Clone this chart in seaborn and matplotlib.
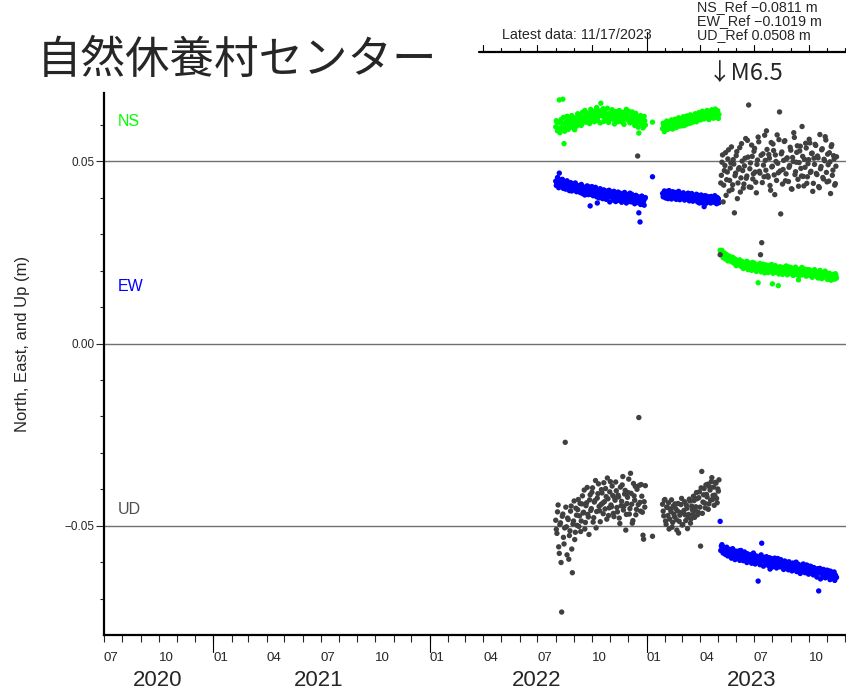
import numpy as np
import pandas as pd
import matplotlib
matplotlib.use("Agg")
import matplotlib.pyplot as plt
import matplotlib.dates as mdates
import matplotlib.transforms as mtransforms
from matplotlib.ticker import FixedLocator
import seaborn as sns

# ---------------- data (mm) ----------------
components = ["NS", "EW", "UD"]
colors = {"NS": "#00ff00", "EW": "#0000ff", "UD": "#404040"}

# segment start dates; each segment holds one value every 2 days
seg_starts = {"a": "2022-08-01", "a2": "2022-08-02",
              "b": "2023-01-28", "b2": "2023-01-29",
              "c": "2023-05-07", "c2": "2023-05-06"}
single_dates = ["2023-01-11", "2023-05-05"]

ns_a = [59.5, 60.8, 58.9, 66.9, 59.2, 60.5, 67.1, 54.9, 59.9, 61.0,
        59.1, 60.4, 60.0, 61.3, 59.6, 60.9, 58.7, 61.2, 60.3, 61.8,
        60.1, 61.5, 62.0, 60.7, 61.9, 62.4, 61.1, 62.8, 61.6, 63.2,
        62.1, 61.4, 62.9, 63.8, 62.3, 61.7, 62.6, 63.1, 66.0, 62.5,
        64.5, 62.2, 61.5, 63.0, 62.4, 61.8, 62.7, 63.4, 61.6, 62.1,
        62.9, 61.3, 62.5, 63.1, 61.9, 62.4, 60.8, 62.6, 61.7, 62.2,
        63.0, 61.4, 62.0, 60.9, 62.3, 61.6, 62.8, 61.1, 60.5, 62.0,
        57.8, 61.3, 60.9, 61.8, 59.6, 61.2]
ns_a2 = [61.2, 58.4, 60.6, 57.9, 61.5, 59.0, 62.1, 58.3, 60.2, 62.4,
         58.8, 61.7, 59.5, 62.6, 60.4, 58.9, 62.0, 59.7, 63.1, 60.6,
         62.8, 59.9, 63.5, 61.2, 64.0, 60.8, 63.3, 62.0, 60.4, 64.3,
         61.5, 63.6, 60.9, 62.7, 64.8, 61.2, 63.9, 60.6, 62.9, 64.1,
         61.0, 63.5, 62.1, 64.6, 60.7, 63.2, 61.9, 64.2, 62.5, 60.3,
         63.7, 62.2, 60.9, 64.0, 62.8, 61.1, 63.5, 60.2, 62.9, 64.3,
         61.5, 63.8, 60.6, 62.4, 63.6, 61.0, 59.9, 63.2, 62.1, 59.4,
         61.7, 62.6, 60.3, 59.2, 62.4, 60.0]
ns_b = [59.0, 59.8, 58.6, 60.2, 59.4, 60.5, 59.1, 60.0, 60.7, 59.6,
        60.3, 61.0, 59.9, 60.6, 60.1, 61.2, 60.4, 59.8, 60.9, 61.4,
        60.2, 60.8, 61.6, 60.5, 61.1, 62.0, 60.9, 61.5, 62.3, 61.2,
        61.8, 62.6, 61.4, 62.1, 63.0, 61.7, 62.4, 63.4, 62.0, 61.5,
        62.8, 63.1, 62.2, 61.9, 62.7, 63.3, 62.5, 61.8]
ns_b2 = [60.5, 58.2, 59.9, 61.1, 58.8, 60.7, 59.6, 61.4, 58.9, 60.8,
         61.6, 59.3, 60.9, 62.0, 59.7, 61.5, 60.6, 62.3, 59.9, 61.8,
         62.5, 60.4, 61.9, 62.8, 60.7, 62.4, 61.3, 63.1, 60.9, 62.7,
         63.4, 61.6, 62.9, 63.8, 61.8, 63.2, 62.2, 64.0, 61.9, 63.6,
         62.4, 64.2, 62.0, 63.3, 64.4, 62.6, 63.9, 62.9]
ns_c = [25.3, 24.8, 24.1, 24.6, 23.7, 24.2, 23.4, 23.9, 23.0, 23.5,
        22.8, 23.3, 22.2, 22.9, 21.7, 22.6, 22.0, 21.5, 22.4, 21.1,
        21.9, 22.3, 20.8, 21.6, 22.1, 20.5, 21.4, 21.0, 22.0, 20.7,
        21.3, 16.7, 20.4, 21.2, 20.9, 21.8, 20.2, 21.1, 20.6, 19.9,
        20.8, 21.5, 20.3, 16.4, 20.7, 19.6, 21.0, 20.1, 15.9, 20.5,
        19.8, 20.9, 20.0, 19.4, 20.6, 21.2, 19.7, 20.3, 19.5, 20.8,
        19.9, 20.4, 19.2, 20.6, 19.8, 17.5, 20.2, 19.6, 20.9, 19.3,
        20.0, 19.5, 18.8, 20.3, 19.7, 19.1, 18.6, 19.9, 19.4, 18.9,
        19.6, 18.4, 19.2, 20.1, 18.7, 19.0, 18.3, 19.5, 18.8, 17.9,
        18.6, 19.3, 18.1, 18.9, 17.8, 18.5, 19.2, 18.0]
ns_c2 = [24.5, 25.6, 23.6, 24.9, 23.2, 24.4, 22.7, 24.0, 23.4, 22.5,
         23.7, 22.1, 23.1, 21.4, 22.7, 21.9, 23.0, 21.2, 22.5, 20.6,
         22.2, 21.0, 22.6, 20.3, 21.8, 21.1, 20.1, 22.3, 20.9, 21.7,
         19.8, 21.5, 20.6, 22.0, 19.7, 21.3, 20.5, 19.4, 21.6, 20.4,
         19.5, 21.2, 20.0, 21.7, 19.3, 20.7, 21.4, 19.6, 20.9, 19.1,
         21.1, 20.2, 19.0, 20.8, 19.6, 21.3, 18.9, 20.4, 21.0, 19.2,
         20.5, 18.7, 20.1, 21.0, 19.0, 20.3, 18.6, 19.8, 20.7, 18.9,
         19.7, 20.4, 18.5, 19.9, 18.8, 20.2, 19.3, 18.2, 19.8, 20.3,
         18.6, 19.5, 18.0, 19.7, 18.9, 17.8, 19.4, 18.4, 19.9, 18.2,
         17.6, 19.1, 18.7, 17.4, 19.0, 18.3, 17.7, 18.8]
ns_single = [60.8, 25.6]

ew_a = [44.6, 43.9, 45.3, 46.8, 44.1, 43.5, 44.8, 43.2, 44.4, 43.8,
        42.9, 44.0, 43.3, 42.7, 43.9, 43.0, 42.5, 43.6, 42.2, 43.1,
        42.8, 41.9, 43.4, 42.4, 41.6, 42.9, 42.1, 41.4, 43.0, 37.8,
        42.3, 41.7, 42.6, 41.1, 42.0, 38.6, 41.5, 42.4, 41.2, 40.8,
        41.9, 41.3, 40.6, 41.7, 41.0, 42.1, 40.4, 41.4, 40.9, 41.8,
        40.2, 41.1, 40.7, 39.9, 41.3, 40.5, 39.7, 40.9, 41.5, 40.1,
        39.6, 40.8, 40.3, 39.4, 41.0, 40.0, 39.2, 40.6, 39.8, 40.4,
        35.9, 33.4, 39.5, 40.2, 39.1, 39.8]
ew_a2 = [43.4, 45.6, 42.8, 44.9, 43.7, 45.1, 42.6, 44.3, 42.4, 44.7,
         43.5, 42.0, 44.2, 41.9, 43.8, 42.6, 44.1, 41.7, 43.4, 42.0,
         41.5, 43.7, 41.2, 42.9, 40.8, 42.5, 43.3, 40.9, 42.2, 41.0,
         43.1, 40.6, 41.8, 42.9, 40.3, 41.6, 40.0, 42.5, 41.1, 39.8,
         42.2, 40.5, 39.6, 41.9, 40.2, 38.9, 41.6, 40.3, 39.4, 41.1,
         39.0, 40.8, 41.6, 39.3, 40.4, 38.8, 41.2, 39.5, 40.6, 38.6,
         40.9, 39.1, 41.3, 38.9, 40.2, 39.6, 38.4, 40.7, 39.0, 38.7,
         39.9, 38.2, 40.5, 39.4, 38.0, 40.1]
ew_b = [41.2, 40.6, 41.5, 40.9, 41.8, 40.4, 41.1, 40.7, 41.4, 40.2,
        40.9, 41.3, 40.5, 41.0, 40.1, 40.8, 41.2, 40.3, 40.7, 39.9,
        40.6, 41.1, 40.0, 40.5, 39.8, 40.9, 40.2, 39.6, 40.4, 39.9,
        40.7, 38.6, 40.1, 39.5, 40.3, 37.6, 39.8, 40.5, 39.3, 40.0,
        39.6, 40.4, 39.2, 39.9, 40.6, 39.4, 40.1, 39.7]
ew_b2 = [40.3, 41.9, 40.0, 41.6, 39.8, 42.0, 40.6, 39.7, 41.7, 40.1,
         41.5, 39.6, 40.4, 41.8, 39.5, 41.0, 39.9, 41.4, 39.4, 40.8,
         39.7, 41.3, 39.2, 40.7, 41.2, 39.1, 40.3, 39.8, 41.0, 38.9,
         40.2, 39.5, 40.8, 38.7, 39.9, 40.6, 38.5, 39.7, 38.9, 40.3,
         38.6, 39.4, 40.2, 38.8, 39.5, 38.4, 39.9, 38.7]
ew_c = [-55.6, -56.4, -55.9, -57.0, -56.2, -56.8, -57.4, -56.5, -57.9, -57.1,
        -56.7, -58.0, -57.3, -58.5, -57.6, -56.9, -58.2, -57.8, -58.8, -57.4,
        -58.1, -59.0, -57.7, -58.6, -59.3, -58.0, -58.9, -57.5, -59.4, -58.4,
        -59.1, -65.2, -58.7, -59.6, -54.8, -58.8, -59.8, -59.2, -58.5, -60.1,
        -59.4, -61.9, -59.0, -60.3, -59.7, -58.9, -60.5, -59.5, -60.0, -60.8,
        -59.3, -60.4, -61.0, -59.8, -60.6, -60.1, -61.3, -59.9, -60.7, -61.5,
        -60.3, -60.9, -61.6, -60.0, -61.2, -60.6, -62.0, -61.0, -61.7, -60.5,
        -61.4, -62.2, -60.8, -61.8, -62.5, -61.1, -62.0, -62.8, -61.5, -62.3,
        -61.9, -62.6, -67.9, -61.7, -62.4, -63.1, -62.0, -62.9, -63.4, -62.2,
        -62.8, -63.6, -62.5, -63.2, -64.0, -62.7, -63.5, -64.2]
ew_c2 = [-56.8, -55.2, -57.5, -56.0, -57.9, -55.9, -58.3, -56.6, -57.2, -58.9,
         -56.3, -57.8, -59.3, -57.0, -58.7, -57.4, -59.5, -56.8, -58.3, -59.6,
         -57.2, -58.9, -60.1, -57.9, -59.4, -58.2, -60.3, -57.8, -59.0, -60.5,
         -58.3, -59.9, -58.6, -60.7, -58.0, -59.6, -61.1, -58.7, -60.2, -59.1,
         -60.9, -58.8, -60.0, -61.4, -59.2, -60.6, -59.4, -61.6, -59.0, -60.3,
         -61.3, -59.6, -60.8, -62.0, -59.7, -61.1, -60.2, -62.1, -60.5, -61.4,
         -62.4, -60.3, -61.7, -60.9, -62.6, -60.7, -61.8, -63.1, -61.0, -62.2,
         -61.3, -62.9, -60.9, -62.5, -63.3, -61.6, -62.7, -61.4, -63.5, -62.0,
         -62.8, -64.1, -61.8, -63.0, -64.6, -62.3, -63.6, -62.6, -64.3, -63.0,
         -63.9, -62.4, -64.8, -63.3, -64.4, -63.1, -65.0, -64.0]
ew_single = [45.8, -48.8]

ud_a = [-48.5, -52.1, -44.3, -57.6, -49.2, -73.7, -46.8, -55.0, -27.1, -50.3,
        -47.9, -59.2, -51.4, -44.6, -62.9, -48.7, -53.8, -45.2, -49.9, -42.8,
        -47.3, -51.6, -44.0, -46.5, -40.2, -49.1, -43.7, -46.9, -52.4, -41.5,
        -45.3, -39.6, -47.8, -43.1, -50.6, -42.4, -38.5, -45.9, -44.2, -41.0,
        -46.7, -43.4, -39.8, -48.2, -42.6, -45.1, -37.9, -44.8, -41.7, -47.5,
        -43.0, -40.4, -46.2, -42.1, -49.4, -44.5, -38.8, -45.7, -41.3, -51.2,
        -43.9, -40.9, -46.8, -35.6, -44.1, -48.6, -41.8, -39.2, -45.5, 51.5,
        -20.3, -43.6, -38.7, -46.3, -53.7, -44.9]
ud_a2 = [-51.0, -46.2, -55.8, -49.7, -60.1, -47.4, -53.2, -50.6, -44.9, -58.0,
         -48.3, -52.7, -46.0, -56.4, -49.5, -43.2, -51.8, -47.1, -45.6, -50.2,
         -43.9, -48.7, -41.8, -46.3, -50.9, -44.5, -39.5, -47.6, -42.9, -45.8,
         -40.8, -49.0, -43.5, -37.6, -46.1, -41.2, -44.7, -48.9, -40.1, -43.8,
         -38.2, -45.4, -42.0, -36.9, -47.2, -40.7, -44.3, -39.1, -46.6, -42.3,
         -38.0, -45.0, -41.6, -47.9, -39.4, -43.3, -36.5, -44.6, -40.3, -46.9,
         -42.2, -37.2, -45.3, -41.1, -49.3, -38.4, -43.0, -47.0, -40.0, -44.2,
         -38.9, -46.0, -41.9, -52.6, -43.4, -39.0]
ud_b = [-44.1, -47.3, -42.8, -49.6, -45.0, -43.7, -48.2, -46.1, -50.4, -44.6,
        -47.5, -45.3, -51.2, -43.9, -48.8, -46.4, -42.5, -49.7, -45.8, -47.0,
        -44.3, -50.8, -46.9, -43.2, -48.1, -45.6, -41.9, -47.7, -44.8, -42.6,
        -46.3, -40.7, -55.6, -35.1, -43.5, -39.8, -45.1, -41.4, -38.6, -44.0,
        -40.2, -37.9, -42.8, -39.4, -41.6, -38.3, -43.7, -40.5]
ud_b2 = [-46.0, -43.0, -48.7, -44.9, -47.2, -50.9, -45.4, -42.9, -49.1, -46.8,
         -44.0, -48.3, -45.9, -52.0, -47.1, -44.2, -49.8, -46.5, -43.4, -48.6,
         -45.2, -47.8, -42.7, -49.3, -44.6, -46.9, -43.1, -45.8, -40.9, -47.0,
         -42.3, -44.9, -39.6, -46.6, -41.5, -43.8, -38.8, -42.1, -45.5, -39.3,
         -43.0, -36.8, -41.7, -44.4, -38.1, -42.5, -39.9, -37.4]
ud_c = [46.2, 51.8, 43.5, 48.9, 40.7, 47.1, 53.2, 44.8, 49.6, 42.3,
        50.5, 35.9, 46.8, 52.7, 44.1, 48.3, 41.6, 54.9, 47.5, 43.8,
        50.9, 45.4, 55.8, 65.5, 48.0, 42.9, 51.4, 46.6, 53.6, 44.3,
        49.2, 56.7, 47.3, 24.4, 27.7, 52.1, 45.8, 50.3, 58.4, 46.1,
        51.9, 43.4, 55.2, 48.7, 53.0, 40.9, 50.0, 57.3, 46.9, 63.6,
        35.6, 52.6, 47.8, 55.5, 44.7, 50.8, 69.6, 48.4, 53.9, 42.5,
        51.1, 57.9, 46.4, 49.8, 54.3, 43.2, 52.9, 48.1, 59.6, 45.9,
        50.6, 55.0, 44.0, 49.4, 56.1, 47.0, 52.2, 41.8, 50.9, 54.7,
        46.7, 51.5, 43.1, 57.4, 48.6, 53.5, 45.2, 50.2, 55.9, 44.4,
        49.1, 52.4, 41.2, 54.6, 47.6, 50.7, 43.9, 51.3]
ud_c2 = [44.1, 49.8, 38.9, 47.5, 52.4, 45.0, 50.7, 41.9, 48.2, 54.0,
         43.6, 49.3, 46.1, 51.6, 39.8, 47.9, 53.8, 45.5, 50.1, 42.7,
         48.8, 56.3, 46.0, 51.2, 43.0, 49.6, 54.5, 45.2, 52.8, 47.1,
         41.4, 50.4, 55.4, 46.8, 51.7, 44.2, 49.0, 57.2, 47.6, 53.3,
         45.7, 50.9, 42.1, 48.5, 54.8, 46.3, 51.8, 44.8, 49.5, 56.0,
         47.4, 52.1, 43.8, 50.3, 55.7, 46.6, 51.0, 44.5, 48.9, 53.1,
         42.4, 50.0, 56.6, 47.2, 52.5, 45.1, 49.7, 54.2, 46.0, 51.4,
         43.3, 48.4, 53.7, 45.8, 50.5, 55.1, 47.3, 52.3, 44.0, 49.2,
         54.4, 46.4, 51.0, 42.8, 48.0, 53.2, 45.6, 50.6, 56.8, 47.0,
         52.0, 44.6, 49.9, 54.1, 46.2, 51.6, 43.5, 48.7]
ud_single = [-52.9, 24.4]

ref_texts = ["NS_Ref \u22120.0811 m", "EW_Ref \u22120.1019 m", "UD_Ref 0.0508 m"]
latest_text = "Latest data: 11/17/2023"
title_text = "自然休養村センター"
quake_text = "↓M6.5"
quake_date = "2023-05-05"
ylabel_text = "North, East, and Up (m)"
comp_label_pos = {"NS": 0.0611, "EW": 0.0156, "UD": -0.0455}
month_labels = {1: "01", 4: "04", 7: "07", 10: "10"}
years = [2020, 2021, 2022, 2023]

# ---------------- build long table ----------------
series = {
    "NS": {"a": ns_a, "a2": ns_a2, "b": ns_b, "b2": ns_b2, "c": ns_c, "c2": ns_c2},
    "EW": {"a": ew_a, "a2": ew_a2, "b": ew_b, "b2": ew_b2, "c": ew_c, "c2": ew_c2},
    "UD": {"a": ud_a, "a2": ud_a2, "b": ud_b, "b2": ud_b2, "c": ud_c, "c2": ud_c2},
}
singles = {"NS": ns_single, "EW": ew_single, "UD": ud_single}
rows = []
for comp in components:
    for key, vals in series[comp].items():
        d = pd.date_range(seg_starts[key], periods=len(vals), freq="2D")
        for dd, v in zip(d, vals):
            rows.append((dd, v / 1000.0, comp))
    for dd, v in zip(pd.to_datetime(single_dates), singles[comp]):
        rows.append((dd, v / 1000.0, comp))
df = pd.DataFrame(rows, columns=["date", "value", "comp"])

# ---------------- figure ----------------
sns.set_style("white")
plt.rcParams["font.family"] = ["Liberation Sans", "DejaVu Sans"]

W, H = 846, 691
fig = plt.figure(figsize=(W / 100, H / 100), dpi=100)
ax = fig.add_axes([104 / W, 56 / H, 742 / W, 542 / H])

x0 = pd.Timestamp("2020-07-01")
x1 = pd.Timestamp("2023-12-03")
ax.set_xlim(x0, x1)
ax.set_ylim(-0.0800, 0.0688)

for yv in (-0.05, 0.0, 0.05):
    ax.axhline(yv, color="#707070", lw=1.0, zorder=0)

sns.scatterplot(data=df, x="date", y="value", hue="comp", hue_order=components,
                palette=colors, s=15, linewidth=0, legend=False, ax=ax, zorder=3)

ax.set_xlabel("")
ax.set_ylabel("")

# spines
for s in ("top", "right"):
    ax.spines[s].set_visible(False)
for s in ("left", "bottom"):
    ax.spines[s].set_color("black")
    ax.spines[s].set_linewidth(1.6)

# y ticks
ax.set_yticks([-0.05, 0.0, 0.05])
ax.set_yticklabels(["\u22120.05", "0.00", "0.05"], fontsize=8.5)
ax.yaxis.set_minor_locator(FixedLocator([-0.07, -0.06, -0.04, -0.03, -0.02, -0.01,
                                         0.01, 0.02, 0.03, 0.04, 0.06]))
ax.tick_params(axis="y", which="major", direction="out", length=6, width=0.8, pad=0.8, left=True)
ax.tick_params(axis="y", which="minor", direction="out", length=3, width=0.8, left=True)

# x ticks
quarters = pd.date_range("2020-07-01", "2023-10-01", freq="QS-JAN")
ax.set_xticks(quarters)
ax.set_xticklabels([month_labels[d.month] for d in quarters], fontsize=9.5, ha="left")
months = pd.date_range("2020-07-01", "2023-12-01", freq="MS")
ax.xaxis.set_minor_locator(FixedLocator(mdates.date2num(months)))
ax.tick_params(axis="x", which="major", direction="out", length=5, width=0.8, pad=7.5, bottom=True)
ax.tick_params(axis="x", which="minor", direction="out", length=5, width=0.8, bottom=True)

trans = mtransforms.blended_transform_factory(ax.transData, ax.transAxes)
px = 1.0 / 542
for yr in years[1:]:
    xd = mdates.date2num(pd.Timestamp(f"{yr}-01-01"))
    ax.plot([xd, xd], [0, -17 * px], transform=trans, color="black", lw=0.8, clip_on=False)

# year labels
year_centers = {2020: 158, 2021: 319, 2022: 537, 2023: 752}
for yr in years:
    fig.text(year_centers[yr] / W, 1 - 680 / H, str(yr), fontsize=16, ha="center", va="center")

# component labels
xl = mdates.date2num(pd.Timestamp("2020-07-24"))
for comp in components:
    ax.text(xl, comp_label_pos[comp], comp, color=colors[comp] if comp != "UD" else "#505050",
            fontsize=11.5, ha="left", va="center")

# y label
fig.text(22 / W, 1 - 344 / H, ylabel_text, rotation=90, fontsize=12, ha="center", va="center")

# title
fig.text(37 / W, 1 - 60 / H, title_text, fontsize=32, ha="left", va="center",
         family=["Noto Sans CJK JP", "DejaVu Sans"])

# top reference texts
for i, t in enumerate(ref_texts):
    fig.text(697 / W, 1 - (0.5 + 13.8 * i) / H, t, fontsize=10.3, ha="left", va="top")
fig.text(502 / W, 1 - 28 / H, latest_text, fontsize=10.3, ha="left", va="top")

# top time bar
ytop = (635 - 52) * px
xa = mdates.date2num(pd.Timestamp("2022-03-24"))
xb = mdates.date2num(x1)
ax.plot([xa, xb], [ytop, ytop], transform=trans, color="black", lw=1.6, clip_on=False)
for d in pd.date_range("2022-04-01", "2023-12-01", freq="MS"):
    xd = mdates.date2num(d)
    if d == pd.Timestamp("2023-01-01"):
        L = 20
    elif d.month in (1, 4, 7, 10):
        L = 7
    else:
        L = 4
    ax.plot([xd, xd], [ytop, ytop + L * px], transform=trans, color="black", lw=0.8, clip_on=False)

# earthquake annotation
xq = mdates.date2num(pd.Timestamp(quake_date))
ax.text(xq - 21, (635 - 74) * px, quake_text, transform=trans, fontsize=17, ha="left", va="center",
        family=["Noto Sans CJK JP", "DejaVu Sans"])

fig.savefig("out.png", dpi=100)
